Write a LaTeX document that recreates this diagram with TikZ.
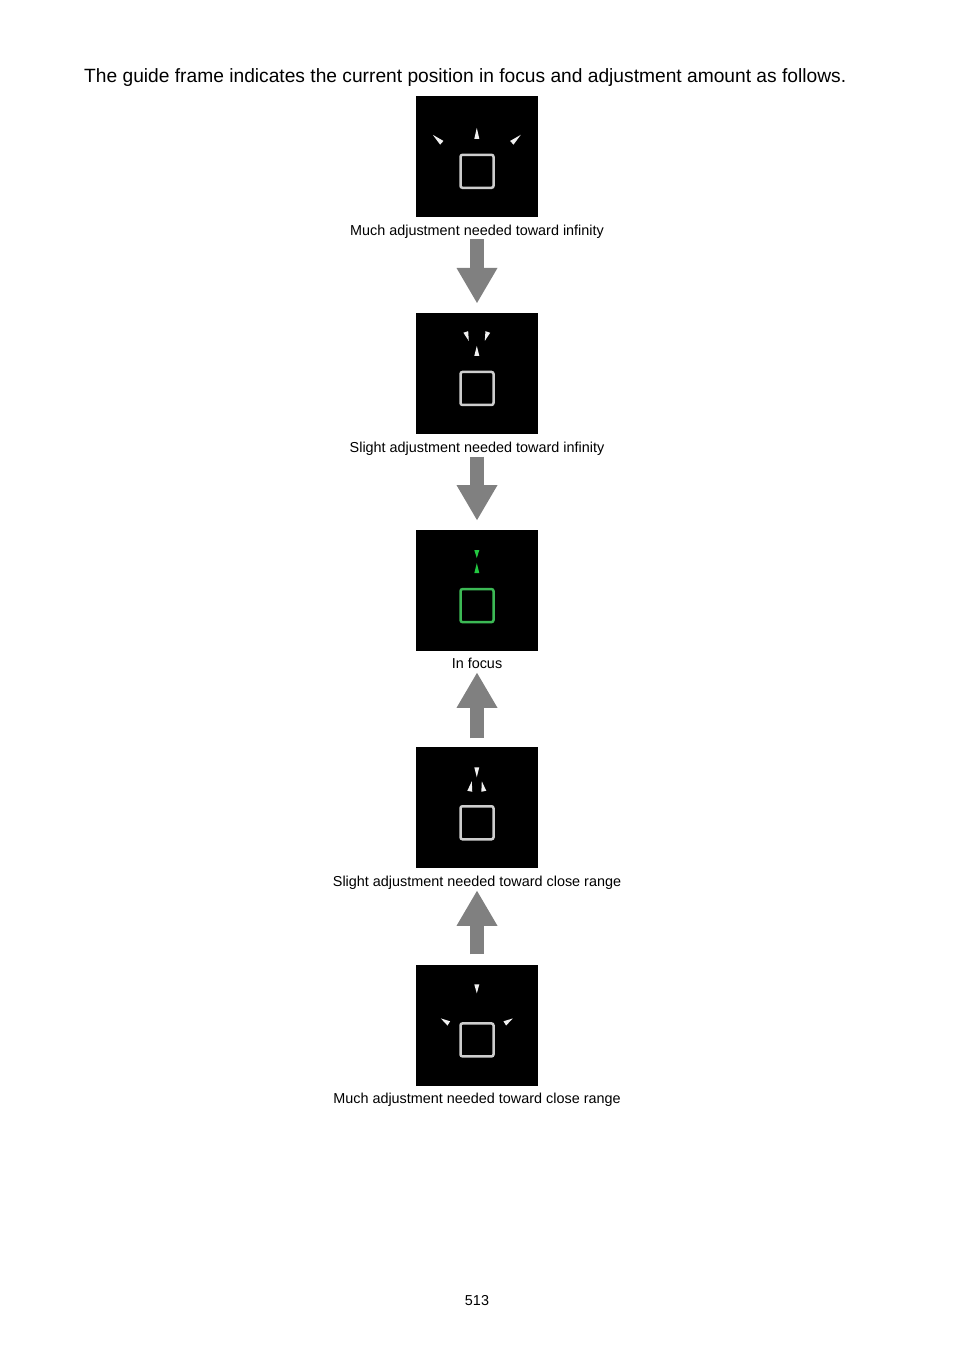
\documentclass[tikz,border=0pt]{standalone}
\usepackage{fontspec}
\setmainfont{Liberation Sans}
\usepackage{xcolor}
\usetikzlibrary{calc, positioning, arrows.meta}

\definecolor{framegray}{RGB}{205,205,205}
\definecolor{markwhite}{RGB}{240,240,240}
\definecolor{focusgreen}{RGB}{60,185,85}
\definecolor{markgreen}{RGB}{35,200,65}
\definecolor{arrowgray}{RGB}{128,128,128}

\tikzset{
	panel/.style={fill=black, minimum width=122pt, minimum height=121pt, inner sep=0pt},
	guideframe/.style={draw=framegray, line width=2.5pt, rounded corners=2pt, minimum size=33pt, inner sep=0pt},
	captext/.style={font=\fontsize{14.4}{17}\selectfont, inner sep=0pt, anchor=base},
	bigarrow/.style={draw=arrowgray, line width=14pt, -{Triangle[length=35pt, width=41pt, line width=0pt]}},
}

% colour, tip, base
\newcommand{\guidemark}[3]{\fill[#1] (#2) -- ($(#3)!2.5pt!90:(#2)$) -- ($(#3)!2.5pt!-90:(#2)$) -- cycle;}

\begin{document}
\begin{tikzpicture}[x=1pt, y=-1pt]
					\useasboundingbox (0,0) rectangle (954,1345);
					\def\gap{95.75pt};
					
					\node [font=\fontsize{19.2}{23}\selectfont, inner sep=0pt, anchor=base west] (title) at (84,82) {The guide frame indicates the current position in focus and adjustment amount as follows.};
					
					\begin{scope}
						\node [panel] (p1) at (477,156.5) {};
						\node [panel, below=\gap of p1] (p2) {};
						\node [panel, below=\gap of p2] (p3) {};
						\node [panel, below=\gap of p3] (p4) {};
						\node [panel, below=\gap of p4] (p5) {};
						
						\node [guideframe] (f1) at ([yshift=-14.8pt]p1.center) {};
						\node [guideframe] (f2) at ([yshift=-14.8pt]p2.center) {};
						\node [guideframe, draw=focusgreen] (f3) at ([yshift=-14.8pt]p3.center) {};
						\node [guideframe] (f4) at ([yshift=-14.8pt]p4.center) {};
						\node [guideframe] (f5) at ([yshift=-14.8pt]p5.center) {};
					\end{scope}
					
					\begin{scope}[shift={(p1.north west)}]
						\guidemark{markwhite}{61,32}{61,43}
						\guidemark{markwhite}{17,39}{26,47}
						\guidemark{markwhite}{105,39}{96,47}
					\end{scope}
					
					\begin{scope}[shift={(p2.north west)}]
						\guidemark{markwhite}{53,28}{50,19}
						\guidemark{markwhite}{69,28}{72,19}
						\guidemark{markwhite}{61,33}{61,43}
					\end{scope}
					
					\begin{scope}[shift={(p3.north west)}]
						\guidemark{markgreen}{61,28}{61,20}
						\guidemark{markgreen}{61,33}{61,43}
					\end{scope}
					
					\begin{scope}[shift={(p4.north west)}]
						\guidemark{markwhite}{61,30}{61,20}
						\guidemark{markwhite}{56,34}{54,44}
						\guidemark{markwhite}{66,34}{68,44}
					\end{scope}
					
					\begin{scope}[shift={(p5.north west)}]
						\guidemark{markwhite}{61,29}{61,20}
						\guidemark{markwhite}{25,54}{33,59}
						\guidemark{markwhite}{97,54}{89,59}
					\end{scope}
					
					\begin{scope}
						\node [captext] (c1) at ([yshift=-18pt]p1.south) {Much adjustment needed toward infinity};
						\node [captext] (c2) at ([yshift=-18pt]p2.south) {Slight adjustment needed toward infinity};
						\node [captext] (c3) at ([yshift=-17pt]p3.south) {In focus};
						\node [captext] (c4) at ([yshift=-18pt]p4.south) {Slight adjustment needed toward close range};
						\node [captext] (c5) at ([yshift=-18pt]p5.south) {Much adjustment needed toward close range};
						
						\node [captext] (page) at (477,1305) {513};
					\end{scope}
					
					\begin{scope}
						\draw [bigarrow] ([yshift=-1pt]c1.south) -- ([yshift=10pt]p2.north);
						\draw [bigarrow] ([yshift=-1pt]c2.south) -- ([yshift=10pt]p3.north);
						\draw [bigarrow] ([yshift=9pt]p4.north) -- ([yshift=-4pt]c3.south);
						\draw [bigarrow] ([yshift=10pt]p5.north) -- ([yshift=-1pt]c4.south);
					\end{scope}
				\end{tikzpicture}
\end{document}
